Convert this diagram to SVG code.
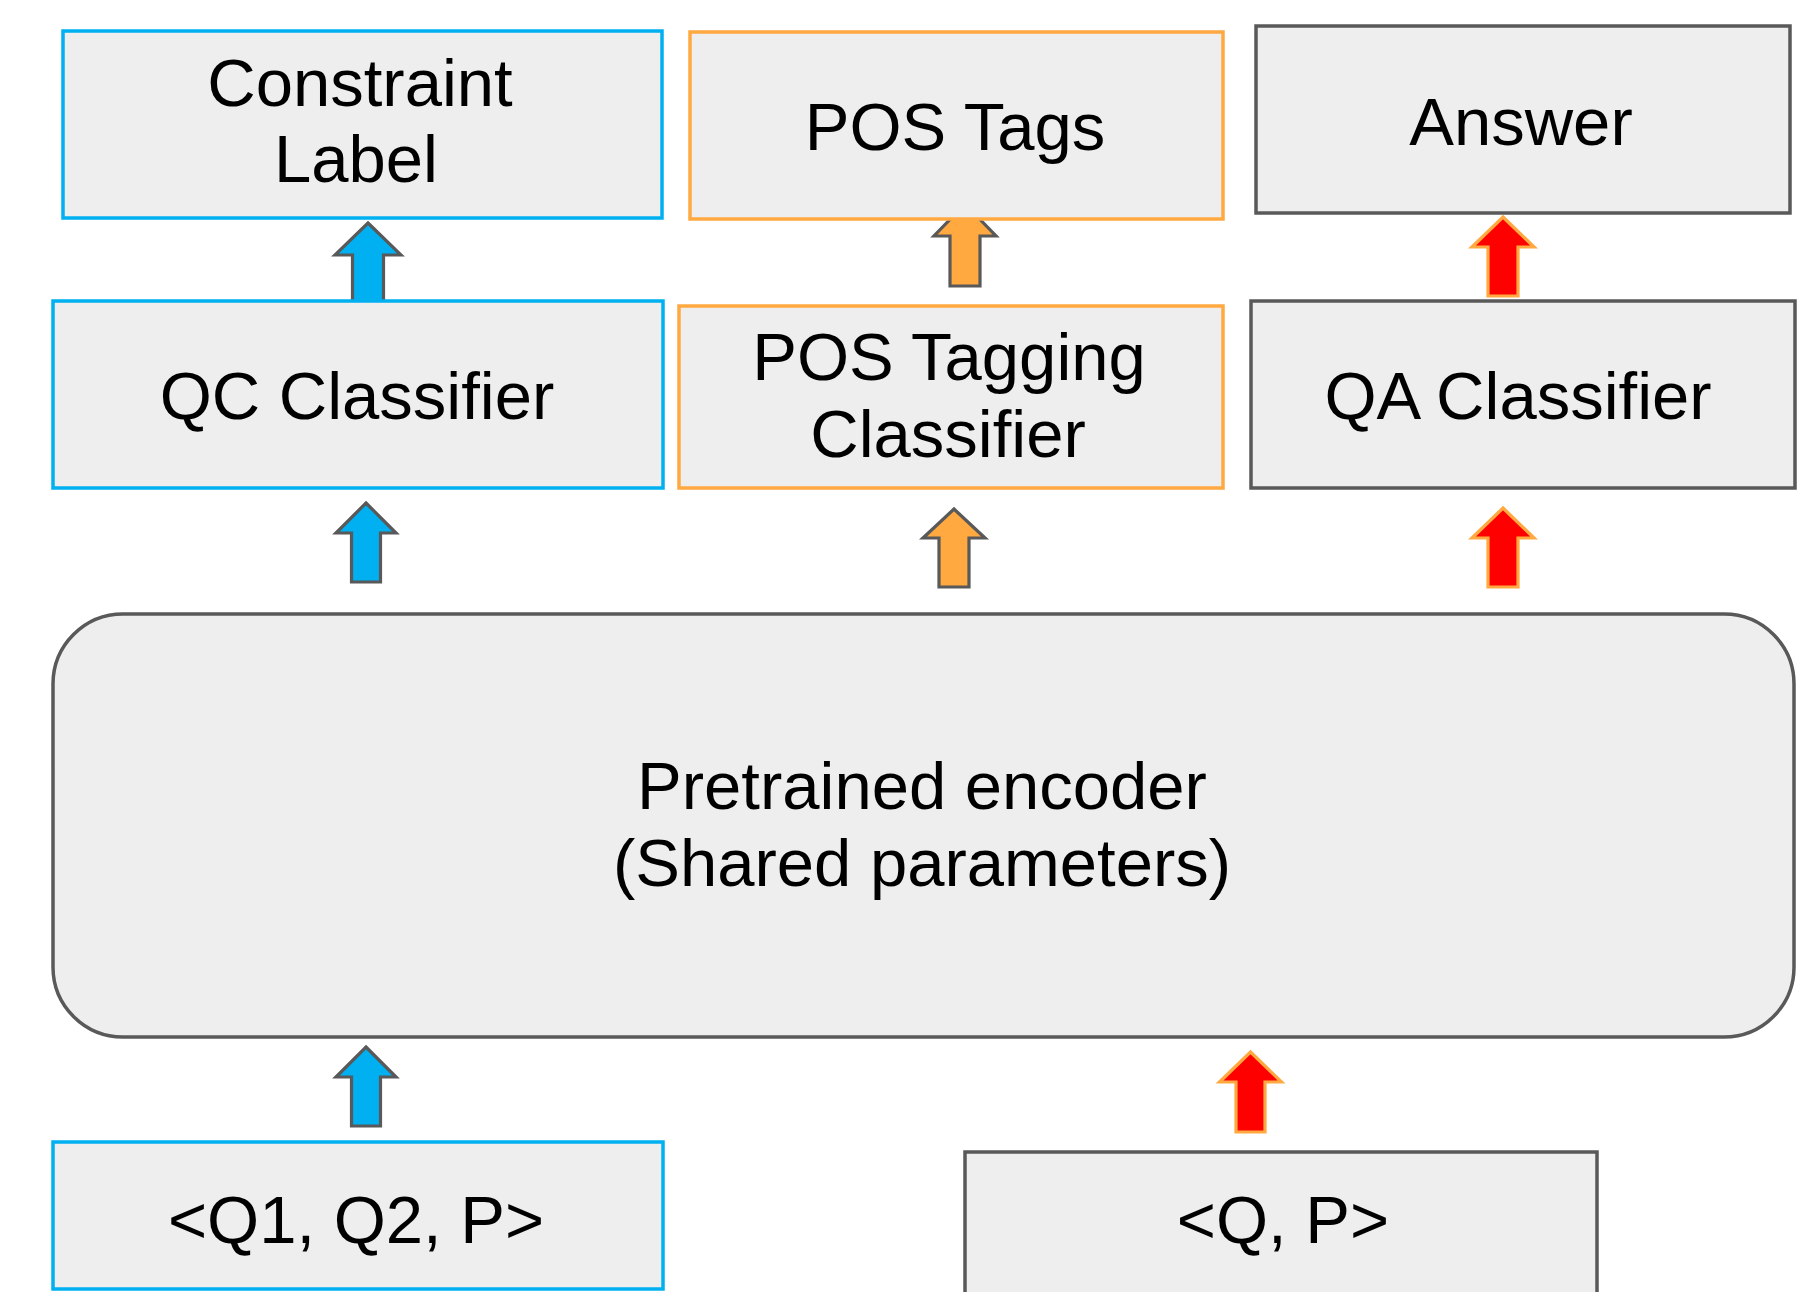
<svg xmlns="http://www.w3.org/2000/svg" width="1799" height="1292" viewBox="0 0 1799 1292">
  <style>
    .box { fill: #eeeeee; stroke-width: 3.5; }
    .blue { stroke: #00b0f0; }
    .orange { stroke: #ffa940; }
    .gray { stroke: #595959; }
    .lbl { font-family: "Liberation Sans", Arial, sans-serif; font-size: 67px; fill: #000000; text-anchor: middle; }
    .arr { stroke-width: 3.2; stroke-linejoin: miter; }
    .arr-blue { fill: #00b0f0; stroke: #595959; }
    .arr-orange { fill: #ffa940; stroke: #595959; }
    .arr-red { fill: #ff0000; stroke: #ffa940; }
  </style>
  <rect width="1799" height="1292" fill="#ffffff"/>

  <!-- block arrows between layers -->
  <g id="connectors">
    <polygon class="arr arr-blue" points="368,223 401,255 383.5,255 383.5,302 352.5,302 352.5,255 335,255"/>
    <polygon class="arr arr-blue" points="366,503 396,533 380.5,533 380.5,582 351.5,582 351.5,533 336,533"/>
    <polygon class="arr arr-blue" points="366,1047 396,1077 380.5,1077 380.5,1126 351.5,1126 351.5,1077 336,1077"/>
    <polygon class="arr arr-orange" points="965,204 996,236 980,236 980,286 950,286 950,236 934,236"/>
    <polygon class="arr arr-orange" points="954,509 985,538 969,538 969,587 939,587 939,538 923,538"/>
    <polygon class="arr arr-red" points="1503,217 1534,247 1518,247 1518,296 1488,296 1488,247 1472,247"/>
    <polygon class="arr arr-red" points="1503,508 1534,538 1518,538 1518,587 1488,587 1488,538 1472,538"/>
    <polygon class="arr arr-red" points="1250.5,1052 1281.5,1082 1265,1082 1265,1132 1236,1132 1236,1082 1219.5,1082"/>
  </g>

  <g id="constraint-label">
    <rect class="box blue" x="63" y="31" width="599" height="187"/>
    <text class="lbl" x="360" y="106">Constraint</text>
    <text class="lbl" x="356" y="182">Label</text>
  </g>

  <g id="pos-tags">
    <rect class="box orange" x="690" y="32" width="533" height="187"/>
    <text class="lbl" x="955" y="150">POS Tags</text>
  </g>

  <g id="answer">
    <rect class="box gray" x="1256" y="26" width="534" height="187"/>
    <text class="lbl" x="1521" y="145">Answer</text>
  </g>

  <g id="qc-classifier">
    <rect class="box blue" x="53" y="301" width="610" height="187"/>
    <text class="lbl" x="357" y="419">QC Classifier</text>
  </g>

  <g id="pos-tagging-classifier">
    <rect class="box orange" x="679" y="306" width="544" height="182"/>
    <text class="lbl" x="949" y="380">POS Tagging</text>
    <text class="lbl" x="948" y="457">Classifier</text>
  </g>

  <g id="qa-classifier">
    <rect class="box gray" x="1251" y="301" width="544" height="187"/>
    <text class="lbl" x="1518" y="419">QA Classifier</text>
  </g>

  <g id="encoder">
    <rect class="box gray" x="53" y="614" width="1741" height="423" rx="70" ry="70"/>
    <text class="lbl" x="922" y="809">Pretrained encoder</text>
    <text class="lbl" x="922" y="886">(Shared parameters)</text>
  </g>

  <g id="input-q1-q2-p">
    <rect class="box blue" x="53" y="1142" width="610" height="147"/>
    <text class="lbl" x="356" y="1243">&lt;Q1, Q2, P&gt;</text>
  </g>

  <g id="input-q-p">
    <rect class="box gray" x="965" y="1152" width="632" height="160"/>
    <text class="lbl" x="1283" y="1243">&lt;Q, P&gt;</text>
  </g>
</svg>
